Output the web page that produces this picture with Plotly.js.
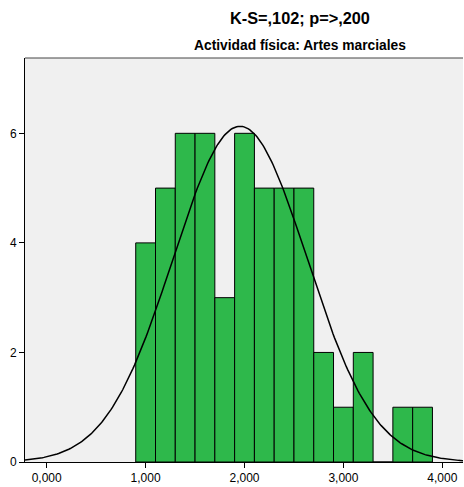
<!DOCTYPE html>
<html><head><meta charset="utf-8">
<script src="https://cdn.plot.ly/plotly-3.0.1.min.js"></script>
<style>html,body{margin:0;padding:0;background:#fff}#chart{width:464px;height:487px}</style>
</head><body><div id="chart"></div>
<script>
// Histogram bins (start of each bin, width 0.2) and counts
const binStarts = [0.9, 1.1, 1.3, 1.5, 1.7, 1.9, 2.1, 2.3, 2.5, 2.7, 2.9, 3.1, 3.3, 3.5, 3.7];
const counts    = [4,   5,   6,   6,   3,   6,   5,   5,   5,   2,   1,   2,   0,   1,   1];
const binWidth = 0.2;
// Fitted normal curve parameters
const fitMean = 1.955;
const fitSd = 0.677;
const yTicks = [0, 2, 4, 6];
const xTicks = [0, 1, 2, 3, 4];
const titleMain = "K-S=,102; p=>,200";
const titleSub = "Actividad física: Artes marciales";

const centers = binStarts.map(s => s + binWidth / 2);
const n = counts.reduce((a, b) => a + b, 0);
const xr = [-0.2194, 4.209];
const cx = [], cy = [];
for (let i = 0; i <= 300; i++) {
  const x = xr[0] + (xr[1] - xr[0]) * i / 300;
  const z = (x - fitMean) / fitSd;
  cx.push(x);
  cy.push(n * binWidth / (fitSd * Math.sqrt(2 * Math.PI)) * Math.exp(-0.5 * z * z));
}

const font = {family: "Liberation Sans, Arial, sans-serif", size: 12, color: "#000"};
const data = [
  {type: "bar", x: centers, y: counts, width: binWidth,
   marker: {color: "#2eb84b", line: {color: "#000", width: 1}},
   hoverinfo: "x+y"},
  {type: "scatter", mode: "lines", x: cx, y: cy,
   line: {color: "#000", width: 1.5}, hoverinfo: "skip"}
];
const layout = {
  width: 464, height: 487,
  margin: {l: 25, r: 1, t: 57.5, b: 25, pad: 0},
  paper_bgcolor: "#fff", plot_bgcolor: "#f0f0f0",
  showlegend: false, bargap: 0,
  separators: ",.",
  font: font,
  xaxis: {range: xr, tickvals: xTicks, tickformat: ".3f", ticks: "outside", ticklen: 5,
          tickcolor: "#000", showgrid: false, zeroline: false, showline: true,
          linecolor: "#000", linewidth: 1, mirror: false, tickfont: font},
  yaxis: {range: [0, 7.375], tickvals: yTicks, ticks: "outside", ticklen: 5,
          tickcolor: "#000", showgrid: false, zeroline: false, showline: true,
          linecolor: "#000", linewidth: 1, mirror: false, tickfont: font},
  shapes: [
    {type: "line", xref: "paper", yref: "paper", x0: 0, x1: 1, y0: 1, y1: 1,
     line: {color: "#444", width: 1}}
  ],
  annotations: [
    {text: "<b>" + titleMain + "</b>", xref: "paper", yref: "paper", x: 0.628, y: 1,
     yshift: 40, xanchor: "center", yanchor: "middle", showarrow: false,
     font: {family: "Liberation Sans, Arial, sans-serif", size: 16.3, color: "#000"}},
    {text: "<b>" + titleSub + "</b>", xref: "paper", yref: "paper", x: 0.628, y: 1,
     yshift: 13, xanchor: "center", yanchor: "middle", showarrow: false,
     font: {family: "Liberation Sans, Arial, sans-serif", size: 13.8, color: "#000"}}
  ]
};
Plotly.newPlot("chart", data, layout, {displayModeBar: false, staticPlot: true});
</script></body></html>
